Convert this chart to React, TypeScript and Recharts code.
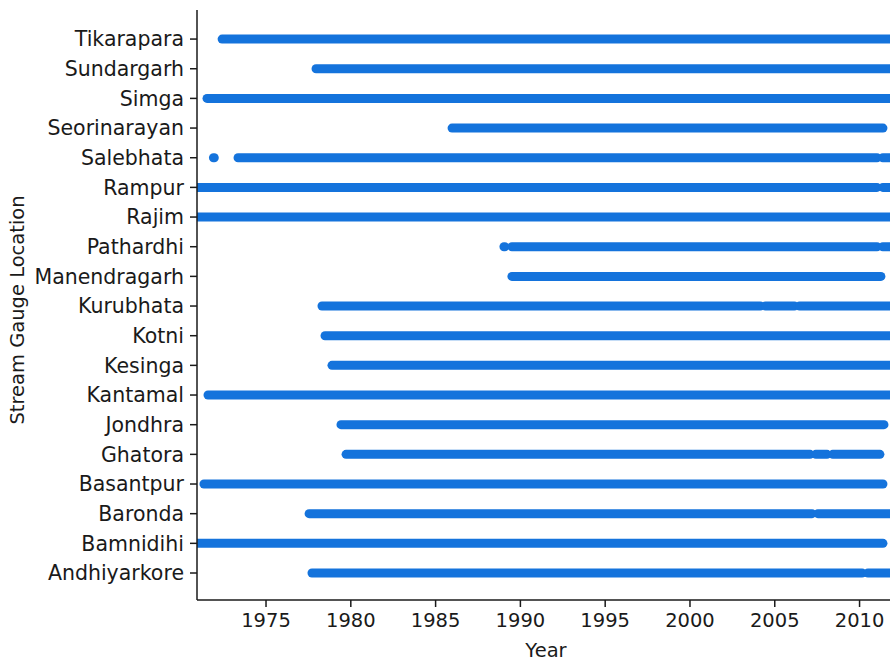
import React from 'react';
import { LineChart, Line, XAxis, YAxis } from 'recharts';

// stations listed top to bottom
const stations = [
  'Tikarapara', 'Sundargarh', 'Simga', 'Seorinarayan', 'Salebhata', 'Rampur',
  'Rajim', 'Pathardhi', 'Manendragarh', 'Kurubhata', 'Kotni', 'Kesinga',
  'Kantamal', 'Jondhra', 'Ghatora', 'Basantpur', 'Baronda', 'Bamnidihi', 'Andhiyarkore',
];

// periods of record per station, [start year, end year]
const periods: number[][][] = [
  [[1972.41, 2013]],
  [[1977.95, 2013]],
  [[1971.52, 2013]],
  [[1985.97, 2011.38]],
  [[1971.9, 1971.95], [1973.35, 2011.03], [2011.37, 2013]],
  [[1970, 2011.03], [2011.37, 2013]],
  [[1970, 2013]],
  [[1989.03, 1989.08], [1989.5, 2011.03], [2011.37, 2013]],
  [[1989.5, 2011.26]],
  [[1978.3, 2004.15], [2004.45, 2006.16], [2006.46, 2013]],
  [[1978.48, 2013]],
  [[1978.89, 2013]],
  [[1971.58, 2013]],
  [[1979.42, 2011.44]],
  [[1979.72, 2007.08], [2007.42, 2008.08], [2008.42, 2011.2]],
  [[1971.34, 2011.38]],
  [[1977.54, 2007.2], [2007.54, 2013]],
  [[1970, 2011.38]],
  [[1977.71, 2010.15], [2010.49, 2013]],
];

const yearTicks = [1975, 1980, 1985, 1990, 1995, 2000, 2005, 2010];

const BLUE = '#1473dc';
const INK = '#1a1a1a';
const FONT = '"DejaVu Sans", sans-serif';
const FS = 19.5;

const rows = stations.map((_, i) => stations.length - 1 - i);
const xDomain = [1970.93, 2012.09];

const segments = periods.flatMap((list, i) =>
  list.map(([start, end]) => ({
    row: rows[i],
    data: [
      { year: start, row: rows[i] },
      { year: end, row: rows[i] },
    ],
  }))
);

export default function App() {
  return (
    <div style={{ position: 'absolute', left: 0, top: 0, width: 890, height: 660, overflow: 'hidden', background: '#fff' }}>
      <LineChart width={905} height={660} margin={{ top: 10, right: 10, bottom: 0, left: 0 }}>
        <XAxis
          type="number"
          dataKey="year"
          domain={xDomain}
          allowDataOverflow
          ticks={yearTicks}
          height={60}
          tickSize={7}
          tickMargin={6}
          axisLine={{ stroke: INK, strokeWidth: 1.5 }}
          tickLine={{ stroke: INK, strokeWidth: 1.5 }}
          tick={{ fill: INK, fontSize: FS, fontFamily: FONT }}
          label={{
            content: (props: any) => {
              const vb = props.viewBox;
              return (
                <text x={vb.x + vb.width / 2} y={650} textAnchor="middle" dominantBaseline="central"
                  fill={INK} fontSize={FS} fontFamily={FONT}>Year</text>
              );
            },
          }}
        />
        <XAxis
          xAxisId="top"
          orientation="top"
          type="number"
          domain={xDomain}
          allowDataOverflow
          height={0}
          tick={false}
          tickLine={false}
          axisLine={{ stroke: INK, strokeWidth: 1.5 }}
        />
        <YAxis
          type="number"
          dataKey="row"
          domain={[-0.91, 18.98]}
          ticks={rows}
          interval={0}
          width={197}
          tickSize={7}
          tickMargin={6}
          tickFormatter={(v: number) => stations[stations.length - 1 - v]}
          axisLine={{ stroke: INK, strokeWidth: 1.5 }}
          tickLine={{ stroke: INK, strokeWidth: 1.5 }}
          tick={{ fill: INK, fontSize: 20.5, fontFamily: FONT }}
          label={{
            content: (props: any) => {
              const vb = props.viewBox;
              const cy = vb.y + vb.height / 2 + 5;
              return (
                <text x={17} y={cy} transform={`rotate(-90 17 ${cy})`} textAnchor="middle"
                  dominantBaseline="central" fill={INK} fontSize={FS} fontFamily={FONT}>
                  Stream Gauge Location
                </text>
              );
            },
          }}
        />
        {segments.map((s, k) => (
          <Line
            key={k}
            data={s.data}
            dataKey="row"
            type="linear"
            stroke={BLUE}
            strokeWidth={9}
            strokeLinecap="round"
            dot={false}
            activeDot={false}
            isAnimationActive={false}
          />
        ))}
      </LineChart>
    </div>
  );
}
